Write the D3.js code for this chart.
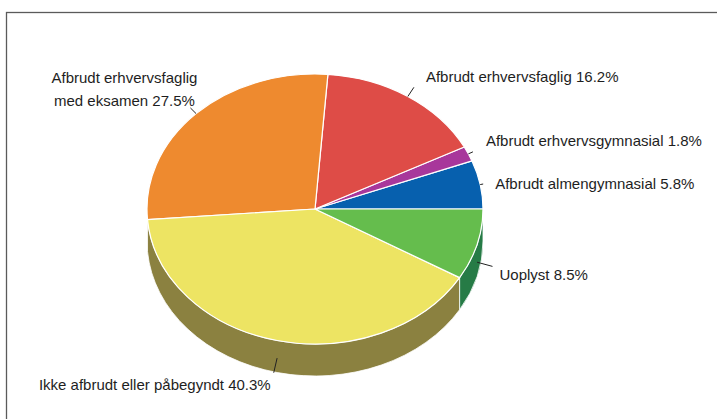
<!DOCTYPE html>
<html>
<head>
<meta charset="utf-8">
<script src="https://cdn.jsdelivr.net/npm/d3@7"></script>
<style>
  html, body { margin: 0; padding: 0; background: #fff; }
  svg { display: block; }
  text { font-family: "Liberation Sans", Arial, Helvetica, sans-serif; font-size: 15px; fill: #1e1e1e; }
</style>
</head>
<body>
<svg id="chart" width="717" height="419"></svg>
<script>
// ---- data ----
const categories = [
  "Afbrudt almengymnasial",
  "Afbrudt erhvervsgymnasial",
  "Afbrudt erhvervsfaglig",
  "Afbrudt erhvervsfaglig med eksamen",
  "Ikke afbrudt eller påbegyndt",
  "Uoplyst"
];
const values = [5.8, 1.8, 16.2, 27.5, 40.3, 8.5];
const labelLines = [
  ["Afbrudt almengymnasial 5.8%"],
  ["Afbrudt erhvervsgymnasial 1.8%"],
  ["Afbrudt erhvervsfaglig 16.2%"],
  ["Afbrudt erhvervsfaglig", "med eksamen 27.5%"],
  ["Ikke afbrudt eller påbegyndt 40.3%"],
  ["Uoplyst 8.5%"]
];
const topColors  = ["#0760ae", "#a8379b", "#de4c47", "#ee8a2f", "#ede463", "#65bd4d"];
const sideColors = ["#05417a", "#74266b", "#9c3532", "#a8611f", "#8b8140", "#267b46"];

// ---- layout (styling, not data) ----
const cx = 315, cy = 209, rx = 168, ry = 135, depth = 32;
// leader length and label offset relative to leader end
const leaderLen = [3, 5, 11, 8, 15, 16];
const labelAnchor = ["start", "start", "start", "middle", "end", "start"];
const labelDx = [12, 13, 12, -66, -3, 7];
const labelDy = [5, -6, -5, -2, 17, 14];
const lineHeight = 22.5;

const svg = d3.select("#chart");

// frame
svg.append("rect")
  .attr("x", 6.5).attr("y", 12.5)
  .attr("width", 760).attr("height", 460)
  .attr("fill", "none").attr("stroke", "#5a5a5a").attr("stroke-width", 1.3);

const pie = d3.pie().sort(null).value(d => d);
const arcs = pie(values);

// angle scale: theta (ccw from +x axis) -> point on ellipse
const xS = d3.scaleLinear().domain([-1, 1]).range([cx - rx, cx + rx]);
const yS = d3.scaleLinear().domain([-1, 1]).range([cy + ry, cy - ry]);
const P = (t, dz = 0) => [xS(Math.cos(t)), yS(Math.sin(t)) + dz];

// sides (lower half only)
const sides = svg.append("g");
arcs.forEach((a, i) => {
  const a0 = Math.max(a.startAngle, Math.PI);
  const a1 = Math.min(a.endAngle, 2 * Math.PI);
  if (a1 <= a0) return;
  const p0 = P(a0), p1 = P(a1), q1 = P(a1, depth), q0 = P(a0, depth);
  const large = (a1 - a0) > Math.PI ? 1 : 0;
  const d = `M${p0[0]},${p0[1]} A${rx},${ry} 0 ${large} 0 ${p1[0]},${p1[1]}` +
            ` L${q1[0]},${q1[1]} A${rx},${ry} 0 ${large} 1 ${q0[0]},${q0[1]} Z`;
  sides.append("path").attr("d", d)
    .attr("fill", sideColors[i])
    .attr("stroke", "#fff").attr("stroke-width", 0.8).attr("stroke-linejoin", "round");
});

// top slices
const tops = svg.append("g");
arcs.forEach((a, i) => {
  const p0 = P(a.startAngle), p1 = P(a.endAngle);
  const large = (a.endAngle - a.startAngle) > Math.PI ? 1 : 0;
  const d = `M${cx},${cy} L${p0[0]},${p0[1]} A${rx},${ry} 0 ${large} 0 ${p1[0]},${p1[1]} Z`;
  tops.append("path").attr("d", d)
    .attr("fill", topColors[i])
    .attr("stroke", "#fff").attr("stroke-width", 1.2).attr("stroke-linejoin", "round");
});

// leaders and labels
const lab = svg.append("g");
arcs.forEach((a, i) => {
  const t = (a.startAngle + a.endAngle) / 2;
  const lower = Math.sin(t) < 0;
  const s = P(t, lower ? depth * 0.55 : 0);
  const dir = [Math.cos(t), -Math.sin(t)];
  const e = [s[0] + dir[0] * leaderLen[i], s[1] + dir[1] * leaderLen[i]];
  lab.append("line")
    .attr("x1", s[0]).attr("y1", s[1]).attr("x2", e[0]).attr("y2", e[1])
    .attr("stroke", "#222").attr("stroke-width", 1);
  const lines = labelLines[i];
  const txt = lab.append("text")
    .attr("text-anchor", labelAnchor[i]);
  lines.forEach((ln, k) => {
    txt.append("tspan")
      .attr("x", e[0] + labelDx[i])
      .attr("y", e[1] + labelDy[i] - (lines.length - 1 - k) * lineHeight)
      .text(ln);
  });
});
</script>
</body>
</html>
